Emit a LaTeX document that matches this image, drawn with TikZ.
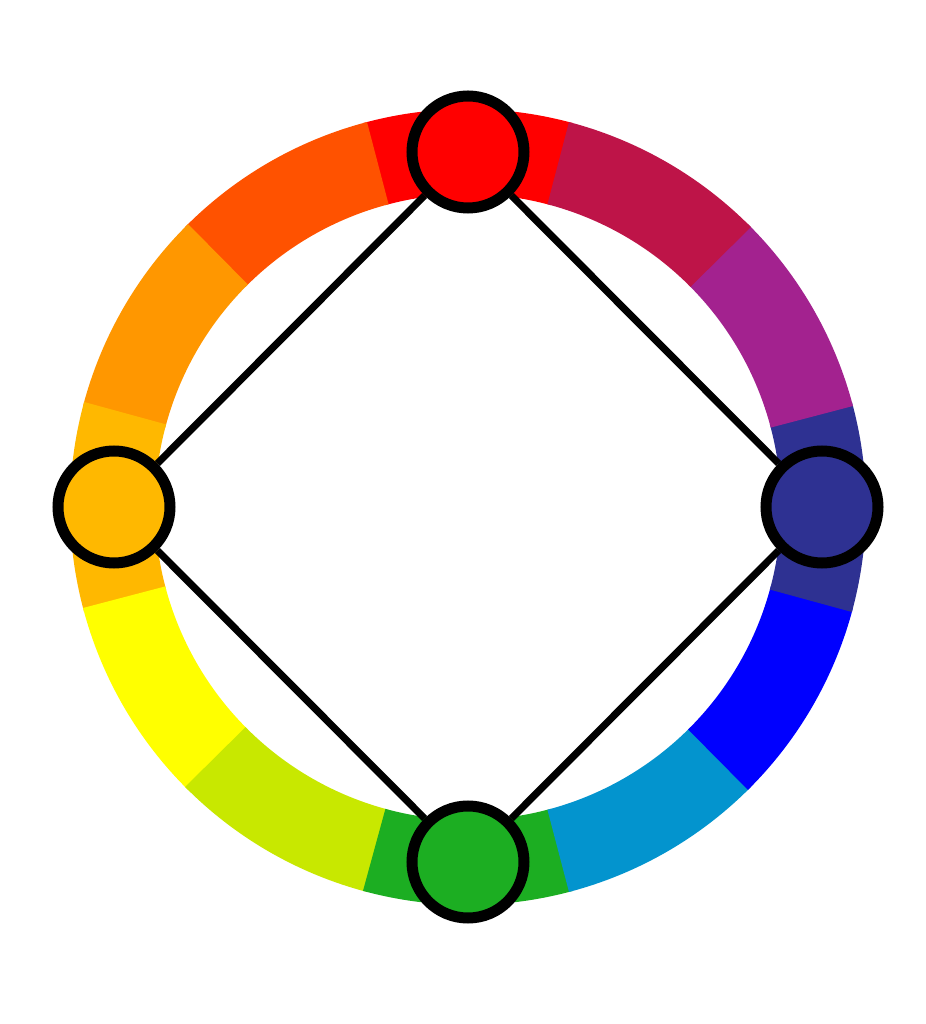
\documentclass[tikz,border=0pt]{standalone}
\usepackage{tikz}
\usetikzlibrary{positioning}
\definecolor{cred}{HTML}{FF0000}
\definecolor{credorange}{HTML}{FF5200}
\definecolor{corange}{HTML}{FF9700}
\definecolor{cyelloworange}{HTML}{FFB800}
\definecolor{cyellow}{HTML}{FFFF00}
\definecolor{cyellowgreen}{HTML}{C8E800}
\definecolor{cgreen}{HTML}{1CAE22}
\definecolor{cbluegreen}{HTML}{0394CE}
\definecolor{cblue}{HTML}{0000FF}
\definecolor{cblueviolet}{HTML}{2E3192}
\definecolor{cviolet}{HTML}{A3228F}
\definecolor{credviolet}{HTML}{BE1448}
\tikzset{
	hue/.style={circle, draw=black, line width=5.5pt, minimum size=56pt, inner sep=0pt},
	link/.style={draw=black, line width=3.6pt}
}
\begin{document}
\begin{tikzpicture}[x=0.5pt, y=0.5pt]
        \useasboundingbox (0,0) rectangle (926,1024);
        \fill[white] (0,0) rectangle (926,1024);
        \begin{scope}[shift={(468,517)}]
            % ring of twelve hues
            \foreach \a/\c in {90/cred, 120/credorange, 150/corange, 180/cyelloworange,
                               210/cyellow, 240/cyellowgreen, 270/cgreen, 300/cbluegreen,
                               330/cblue, 0/cblueviolet, 30/cviolet, 60/credviolet}{
                \fill[\c] (\a-15.3:398) arc[start angle=\a-15.3, end angle=\a+15.3, radius=398]
                    -- (\a+15.3:313) arc[start angle=\a+15.3, end angle=\a-15.3, radius=313] -- cycle;
            }
            \node[hue, fill=cred] (red) at (90:355) {};
            \node[hue, fill=cyelloworange] (yelloworange) at (180:354) {};
            \node[hue, fill=cgreen] (green) at (270:355) {};
            \node[hue, fill=cblueviolet] (blueviolet) at (0:354) {};
        \end{scope}
        \path[link] (red) -- (yelloworange);
        \path[link] (yelloworange) -- (green);
        \path[link] (green) -- (blueviolet);
        \path[link] (blueviolet) -- (red);
\end{tikzpicture}
\end{document}
